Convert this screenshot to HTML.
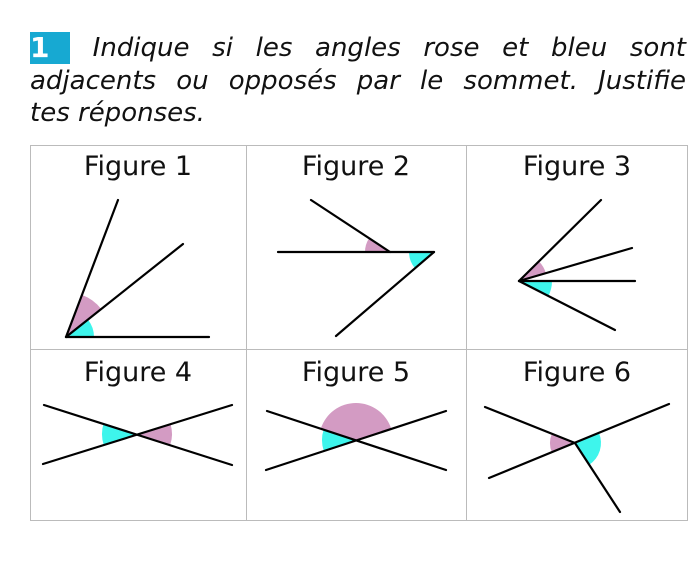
<!DOCTYPE html>
<html><head><meta charset="utf-8"><style>
body{margin:0;width:700px;height:564px;background:#fff;overflow:hidden;font-family:"DejaVu Sans","Liberation Sans",sans-serif}
.l{position:absolute;left:30px;width:656px;font-style:italic;font-size:26px;height:32px;line-height:32px;text-align:justify;text-align-last:justify;color:#111;white-space:nowrap}
.l3{text-align-last:left}
#n{display:inline-block;background:#17a9d2;color:#fff;font-style:normal;font-weight:bold;font-size:28px;width:40px;height:32px;line-height:32px;text-align:center;margin-right:0px;vertical-align:top}
svg{position:absolute;left:0;top:0}
</style></head><body>
<div class="l" style="top:32px"><span id="n">1</span> Indique si les angles rose et bleu sont</div>
<div class="l" style="top:65px">adjacents ou opposés par le sommet. Justifie</div>
<div class="l l3" style="top:97px">tes réponses.</div>
<svg width="700" height="564" id="s">
<g stroke="#bbb" stroke-width="1" fill="none">
<rect x="30.5" y="145.5" width="657" height="375"/>
<line x1="30" y1="349.5" x2="687" y2="349.5"/>
<line x1="246.5" y1="145" x2="246.5" y2="520"/>
<line x1="466.5" y1="145" x2="466.5" y2="520"/>
</g>
<g font-size="27" text-anchor="middle" fill="#111" font-family="DejaVu Sans, sans-serif">
<text x="138" y="175">Figure 1</text><text x="356" y="175">Figure 2</text><text x="577" y="175">Figure 3</text>
<text x="138" y="381">Figure 4</text><text x="356" y="381">Figure 5</text><text x="577" y="381">Figure 6</text>
</g>
<g id="sec"></g>
<g stroke="#000" stroke-width="2.2" stroke-linecap="round">
<line x1="66" y1="337" x2="118" y2="200"/><line x1="66" y1="337" x2="183" y2="244"/><line x1="66" y1="337" x2="209" y2="337"/>
<line x1="278" y1="252" x2="434" y2="252"/><line x1="311" y1="200" x2="390" y2="252"/><line x1="434" y1="252" x2="336" y2="336"/>
<line x1="519" y1="281" x2="601" y2="200"/><line x1="519" y1="281" x2="632" y2="248"/><line x1="519" y1="281" x2="635" y2="281"/><line x1="519" y1="281" x2="615" y2="330"/>
<line x1="44" y1="405" x2="232" y2="465"/><line x1="43" y1="464" x2="232" y2="405"/>
<line x1="267" y1="411" x2="446" y2="470"/><line x1="266" y1="470" x2="446" y2="411"/>
<line x1="485" y1="407" x2="575" y2="443"/><line x1="489" y1="478" x2="669" y2="404"/><line x1="575" y1="443" x2="620" y2="512"/>
</g>
</svg>
<script>
var P="#d39bc3",C="#3ef5ec";
function sec(cx,cy,ax,ay,bx,by,r,col){
 var a1=Math.atan2(ay-cy,ax-cx),a2=Math.atan2(by-cy,bx-cx);
 var d=a2-a1;while(d<0)d+=2*Math.PI;
 if(d>Math.PI){var t=a1;a1=a2;a2=t;d=2*Math.PI-d;}
 var x1=cx+r*Math.cos(a1),y1=cy+r*Math.sin(a1),x2=cx+r*Math.cos(a2),y2=cy+r*Math.sin(a2);
 var p=document.createElementNS("http://www.w3.org/2000/svg","path");
 p.setAttribute("d","M"+cx+","+cy+"L"+x1+","+y1+"A"+r+","+r+" 0 0 1 "+x2+","+y2+"Z");
 p.setAttribute("fill",col);document.getElementById("sec").appendChild(p);
}
sec(66,337,118,200,183,244,45,P);sec(66,337,183,244,209,337,28,C);
sec(390,252,311,200,278,252,25,P);sec(434,252,278,252,336,336,25,C);
sec(519,281,601,200,632,248,28,P);sec(519,281,635,281,615,330,33,C);
sec(138,434,44,405,43,464,36,C);sec(138,434,232,405,232,465,34,P);
sec(356,440,267,411,446,411,37,P);sec(356,440,267,411,266,470,34,C);
sec(575,443,485,407,489,478,25,P);sec(575,443,669,404,620,512,26,C);
</script>
</body></html>
